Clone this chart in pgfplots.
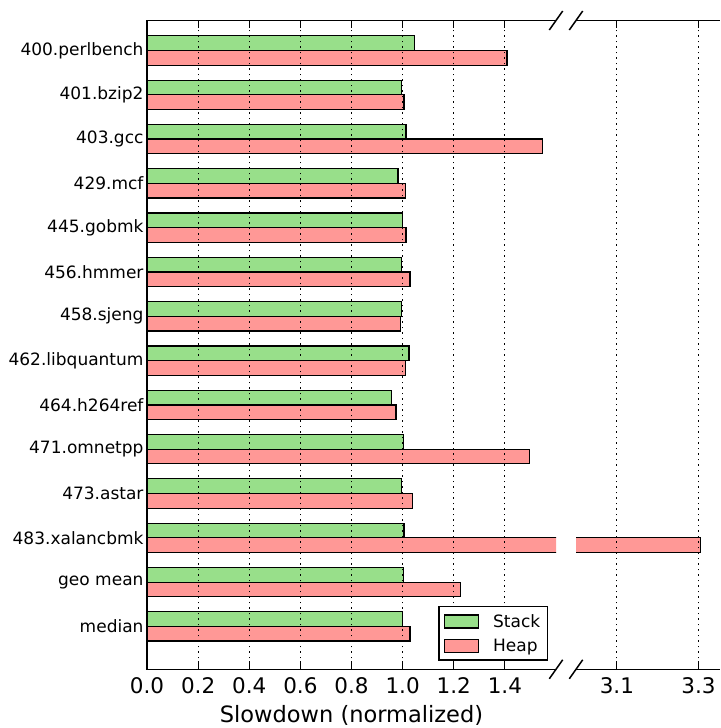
\documentclass[border=0pt]{standalone}
\usepackage{fontspec}
\setmainfont{DejaVu Sans}
\usepackage{pgfplots}
\pgfplotsset{compat=1.18}
\usepackage{pgfplotstable}
\definecolor{sgreen}{HTML}{98DF8A}
\definecolor{hred}{HTML}{FF9896}

\pgfplotstableread{
y stack heap
13 1.047 1.408
12 0.996 1.005
11 1.013 1.546
10 0.982 1.012
9 0.999 1.013
8 0.996 1.029
7 0.997 0.993
6 1.025 1.012
5 0.956 0.974
4 1.003 1.497
3 0.997 1.038
2 1.005 3.305
1 1.003 1.227
0 0.999 1.029
}\data

\pgfplotsset{
 brk/.style={
  scale only axis, height=648.8pt, ymin=-0.968, ymax=13.677,
  axis line style={draw=none},
  tick style={black, line width=1.1pt},
  major tick length=8pt,
  xmajorgrids, major grid style={black, line width=0.9pt, dash pattern=on 1.5pt off 4pt},
  tick align=inside,
  axis on top,
  xticklabel style={font=\fontsize{21.5}{25}\selectfont, yshift=-5pt},
  /pgf/number format/fixed, /pgf/number format/fixed zerofill,
  /pgf/number format/precision=1, /pgf/number format/assume math mode=true,
 },
 sbar/.style={xbar, bar width=0.33, bar shift=0.165, fill=sgreen, draw=black, line width=1.2pt,
   legend image code/.code={\draw[##1] (0pt,-6.5pt) rectangle (34pt,6.5pt);}},
 hbar/.style={xbar, bar width=0.33, bar shift=-0.165, fill=hred, draw=black, line width=1.2pt,
   legend image code/.code={\draw[##1] (0pt,-6.5pt) rectangle (34pt,6.5pt);}},
}

\begin{document}
\begin{tikzpicture}
\path[use as bounding box] (0,0) rectangle (720pt,728pt);
\begin{axis}[brk, name=L, at={(147pt,58.7pt)}, anchor=south west, width=409pt,
  xmin=0, xmax=1.6, xtick={0,0.2,0.4,0.6,0.8,1.0,1.2,1.4},
  ytick={0,1,2,3,4,5,6,7,8,9,10,11,12,13},
  yticklabels={median, geo mean, 483.xalancbmk, 473.astar, 471.omnetpp, 464.h264ref, 462.libquantum, 458.sjeng, 456.hmmer, 445.gobmk, 429.mcf, 403.gcc, 401.bzip2, 400.perlbench},
  ytick pos=left,
  yticklabel style={font=\fontsize{17}{20}\selectfont},
  xlabel={Slowdown (normalized)},
  xlabel style={font=\fontsize{22.5}{26}\selectfont, yshift=-4.5pt},
  legend cell align=left,
  legend style={at={(0.98,0.0133)}, anchor=south east, draw=black, line width=1.2pt,
    font=\fontsize{17}{20}\selectfont, inner xsep=5pt, inner ysep=5.5pt, nodes={inner sep=2pt}, row sep=6pt,
    /tikz/every odd column/.append style={column sep=12pt}},
]
\addplot[sbar] table[x=stack, y=y] {\data};
\addlegendentry{Stack}
\addplot[hbar] table[x=heap, y=y] {\data};
\addlegendentry{Heap}
\end{axis}
\begin{axis}[brk, name=R, at={(576pt,58.7pt)}, anchor=south west, width=144pt,
  xmin=3.0, xmax=3.3525, xtick={3.1,3.3}, ytick=\empty]
% 483.xalancbmk heap bar continued past the break (y = 2, lower half of the group)
\addplot[fill=hred, draw=black, line width=1.2pt] coordinates {(2.9,2.0) (3.305,2.0) (3.305,1.67) (2.9,1.67)};
\end{axis}
\draw[line width=1.5pt] (L.south east) -- (L.south west) -- (L.north west) -- (L.north east);
\draw[line width=1.5pt] (R.south west) -- (R.south east);
\draw[line width=1.5pt] (R.north west) -- (R.north east);
\foreach \p in {L.south east, L.north east, R.south west, R.north west}
  \draw[line width=1.5pt] ([shift={(-6.7pt,-9.5pt)}]\p) -- ([shift={(6.7pt,9.5pt)}]\p);
\end{tikzpicture}
\end{document}
